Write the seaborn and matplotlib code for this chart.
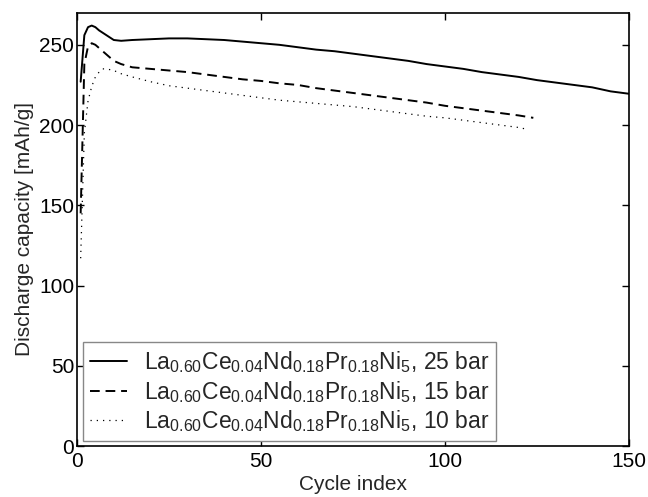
import matplotlib
matplotlib.use("Agg")
import matplotlib.pyplot as plt
import seaborn as sns
import pandas as pd

cycles_25 = [1, 2, 3, 4, 5, 6, 8, 10, 12, 15, 20, 25, 30, 35, 40, 45, 50, 55, 60, 65, 70,
             75, 80, 85, 90, 95, 100, 105, 110, 115, 120, 125, 130, 135, 140, 145, 150]
cap_25 = [227, 256, 261, 262, 261, 259, 256, 253, 252.5, 253, 253.5, 254, 254, 253.5, 253,
          252, 251, 250, 248.5, 247, 246, 244.5, 243, 241.5, 240, 238, 236.5, 235, 233,
          231.5, 230, 228, 226.5, 225, 223.5, 221, 219.5]

cycles_15 = [1, 2, 3, 4, 5, 6, 8, 10, 12, 15, 20, 25, 30, 35, 40, 45, 50, 55, 60, 65, 70,
             75, 80, 85, 90, 95, 100, 105, 110, 115, 120, 124]
cap_15 = [145, 238, 249, 251, 250, 248, 244, 240, 238, 236, 235, 234, 233, 231.5, 230,
          228.5, 227.5, 226, 225, 223, 221.5, 220, 218.5, 217, 215.5, 214, 212, 210.5,
          209, 207.5, 206, 204.5]

cycles_10 = [1, 2, 3, 4, 5, 6, 7, 8, 10, 12, 15, 20, 25, 30, 35, 40, 45, 50, 55, 60, 65,
             70, 75, 80, 85, 90, 95, 100, 105, 110, 115, 120, 122]
cap_10 = [117, 195, 215, 224, 230, 233, 235, 235, 234, 232, 230, 227, 224.5, 223, 221.5,
          220, 218.5, 217, 215.5, 214.5, 213.5, 212.5, 211.5, 210, 208.5, 207, 205.5,
          204.5, 203, 201.5, 200, 198.5, 197.5]

formula = r"La$_{0.60}$Ce$_{0.04}$Nd$_{0.18}$Pr$_{0.18}$Ni$_{5}$"
labels = [formula + ", 25 bar", formula + ", 15 bar", formula + ", 10 bar"]

x_ticks = [0, 50, 100, 150]
y_ticks = [0, 50, 100, 150, 200, 250]

sns.set_style("ticks")
plt.rcParams["font.family"] = ["Liberation Sans", "DejaVu Sans"]
plt.rcParams["mathtext.fontset"] = "custom"
plt.rcParams["mathtext.rm"] = "Liberation Sans"
plt.rcParams["mathtext.it"] = "Liberation Sans"
plt.rcParams["mathtext.default"] = "regular"

fig = plt.figure(figsize=(6.48, 4.97), dpi=100)
ax = fig.add_axes([0.1188, 0.1026, 0.8519, 0.8718])

series = [
    (cycles_25, cap_25, labels[0], dict(linestyle="-", linewidth=1.4)),
    (cycles_15, cap_15, labels[1], dict(linestyle=(0, (5, 3)), linewidth=1.4)),
    (cycles_10, cap_10, labels[2], dict(linestyle=(0, (1, 4)), linewidth=0.9)),
]
for cx, cy, lab, st in series:
    df = pd.DataFrame({"cycle": cx, "cap": cy})
    sns.lineplot(data=df, x="cycle", y="cap", ax=ax, color="black", label=lab, **st)

ax.set_xlim(0, 150)
ax.set_ylim(0, 270)
ax.set_xticks(x_ticks)
ax.set_yticks(y_ticks)
ax.set_xlabel("Cycle index", fontsize=15, labelpad=3)
ax.set_ylabel("Discharge capacity [mAh/g]", fontsize=15, labelpad=4)
ax.tick_params(direction="in", length=5, width=1, labelsize=15, top=True, right=True,
               colors="black")
ax.tick_params(axis="x", pad=4.5)
ax.tick_params(axis="y", pad=2)
for sp in ax.spines.values():
    sp.set_visible(True)
    sp.set_linewidth(1.2)
    sp.set_color("black")

leg = ax.legend(loc="lower left", bbox_to_anchor=(0.011, 0.012), borderaxespad=0,
                fontsize=16.5, frameon=True, fancybox=False, framealpha=1,
                edgecolor="#888888", handlelength=1.6, handletextpad=0.75,
                labelspacing=0.15, borderpad=0.3)
leg.get_frame().set_linewidth(1.0)

fig.savefig("out.png", dpi=100)
